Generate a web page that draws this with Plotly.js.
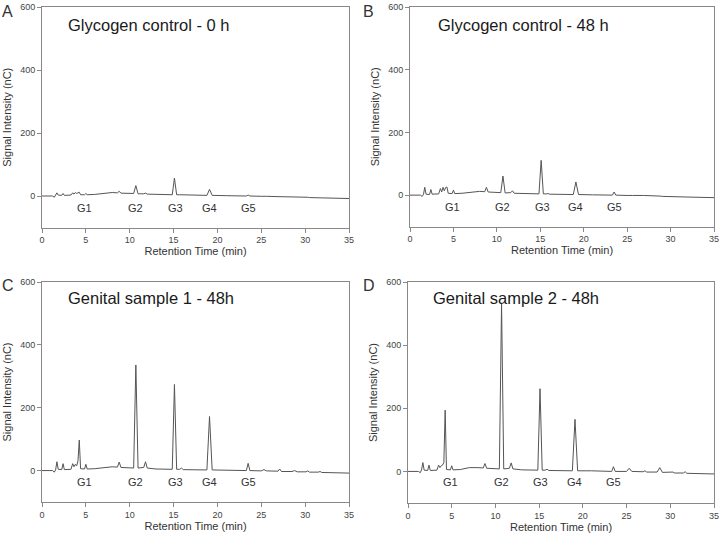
<!DOCTYPE html>
<html>
<head>
<meta charset="utf-8">
<script src="https://cdn.plot.ly/plotly-3.0.1.min.js"></script>
<style>html,body{margin:0;padding:0;background:#fff;}#chart{width:720px;height:535px;}</style>
</head>
<body>
<div id="chart"></div>
<script>
// Retention time points (min)
const time = [0, 1.2, 1.4, 1.55, 1.7, 1.85, 2.25, 2.4, 2.55, 3.3,
  3.5, 3.65, 3.8, 3.95, 4.1, 4.25, 4.4, 4.85, 5.0, 5.15,
  6, 7.0, 8, 8.6, 8.8, 9.0, 10.45, 10.7, 10.95, 11.6,
  11.8, 12.0, 13, 14.85, 15.1, 15.35, 15.7, 15.9, 16.1, 18.8,
  19.1, 19.4, 21, 23.3, 23.5, 23.7, 25.0, 25.3, 25.6, 26.9,
  27.1, 27.3, 28.5, 28.8, 29.1, 30.1, 30.3, 30.5, 31.5, 31.7,
  31.9, 35];

// Signal intensity (nC) per sample
const glycogen0h = [0, 0, -4, 2, 10, 3, 2, 8, 2, 3,
  10, 6, 11, 8, 11, 12, 4, 4, 8, 4,
  5, 8, 11, 10, 15, 9, 8, 33, 7, 7,
  9, 6, 5, 4, 57, 4, 4, 4, 3, 2,
  21, 2, 1, 0, 3, 0, -1, 0, -1, -2,
  -2, -3, -3, -3, -4, -4, -4, -5, -5, -5,
  -6, -8];
const glycogen48h = [0, 0, -4, 2, 25, 3, 2, 18, 3, 4,
  21, 10, 25, 14, 24, 26, 6, 5, 16, 5,
  6, 9, 12, 11, 25, 10, 8, 61, 7, 8,
  14, 6, 5, 4, 111, 4, 4, 5, 3, 2,
  42, 2, 1, 0, 10, 0, -1, 0, -1, -1,
  -1, -2, -3, -3, -4, -4, -4, -5, -5, -5,
  -6, -8];
const genital1 = [0, 0, -5, 2, 28, 4, 3, 22, 3, 4,
  22, 12, 20, 15, 30, 97, 6, 5, 20, 5,
  6, 10, 12, 11, 27, 10, 8, 336, 8, 10,
  28, 8, 5, 4, 274, 4, 4, 8, 3, 2,
  172, 2, 1, 0, 23, 0, -1, 3, -1, -2,
  5, -3, -3, 0, -4, -4, -1, -5, -5, -3,
  -6, -8];
const genital2 = [0, 0, -4, 5, 28, 4, 3, 20, 3, 4,
  20, 12, 18, 20, 28, 194, 6, 5, 18, 5,
  6, 12, 12, 11, 25, 10, 8, 532, 8, 10,
  27, 8, 5, 4, 262, 4, 4, 7, 3, 2,
  165, 2, 2, 0, 15, 0, 0, 10, 0, -1,
  2, -2, -2, 12, -3, -4, -2, -5, -5, -1,
  -6, -8];

const panelTitles = ['Glycogen control - 0 h', 'Glycogen control - 48 h', 'Genital sample 1 - 48h', 'Genital sample 2 - 48h'];
const panelLetters = ['A', 'B', 'C', 'D'];
const peakLabels = ['G1', 'G2', 'G3', 'G4', 'G5'];
const peakLabelX = [4.9, 10.7, 15.2, 19.1, 23.5];
const peakLabelY = [-38, -38, -36, -34];
const xTicks = [0, 5, 10, 15, 20, 25, 30, 35];
const yTicks = [0, 200, 400, 600];

const series = [glycogen0h, glycogen48h, genital1, genital2];

const W = 720, H = 535;
// pixel boxes of plot areas [left, right, top, bottom]
const boxes = [[42, 349, 7, 227.5], [410, 714, 7, 226.5], [42, 349, 282, 502], [408, 714, 282, 503]];

const traces = [];
const layout = {
  width: W, height: H,
  margin: {l: 0, r: 0, t: 0, b: 0},
  paper_bgcolor: '#fff', plot_bgcolor: '#fff',
  showlegend: false,
  font: {family: 'Liberation Sans, Arial, sans-serif', color: '#333'},
  annotations: []
};

series.forEach((ys, i) => {
  const n = i + 1;
  const xs = n === 1 ? 'x' : 'x' + n;
  const yr = n === 1 ? 'y' : 'y' + n;
  traces.push({
    x: time, y: ys, type: 'scatter', mode: 'lines',
    xaxis: xs, yaxis: yr,
    line: {color: '#555', width: 1},
    hoverinfo: 'x+y'
  });
  const b = boxes[i];
  const xd = [b[0] / W, b[1] / W];
  const yd = [(H - b[3]) / H, (H - b[2]) / H];
  layout['xaxis' + (n === 1 ? '' : n)] = {
    domain: xd, anchor: yr, range: [0, 35], tickvals: xTicks,
    ticks: 'outside', ticklen: 4, tickcolor: '#888', tickwidth: 1,
    showline: true, linecolor: '#888', linewidth: 1, mirror: true,
    showgrid: false, zeroline: false,
    tickfont: {size: 9, color: '#444'},
    title: {text: 'Retention Time (min)', font: {size: 11, color: '#333'}, standoff: 3}
  };
  layout['yaxis' + (n === 1 ? '' : n)] = {
    domain: yd, anchor: xs, range: [-100, 600], tickvals: yTicks,
    ticks: 'outside', ticklen: 4, tickcolor: '#888', tickwidth: 1,
    showline: true, linecolor: '#888', linewidth: 1, mirror: true,
    showgrid: false, zeroline: false,
    tickfont: {size: 9, color: '#444'},
    title: {text: 'Signal Intensity (nC)', font: {size: 11, color: '#333'}, standoff: 6}
  };
  // Panel title inside plot
  layout.annotations.push({
    text: panelTitles[i], xref: 'paper', yref: 'paper',
    x: (i % 2 === 0 ? 66 : (i === 1 ? 436 : 431)) / W,
    y: (H - (i < 2 ? 25 : 298)) / H,
    xanchor: 'left', yanchor: 'middle', showarrow: false,
    font: {size: 16.5, color: '#1a1a1a'}
  });
  // Panel letter
  layout.annotations.push({
    text: panelLetters[i], xref: 'paper', yref: 'paper',
    x: (i % 2 === 0 ? 0 : 361) / W,
    y: (H - (i < 2 ? 1 : 275)) / H,
    xanchor: 'left', yanchor: 'top', showarrow: false,
    font: {size: 16, color: '#333'}
  });
  // Peak labels
  peakLabels.forEach((lab, k) => {
    layout.annotations.push({
      text: lab, xref: xs, yref: yr, x: peakLabelX[k], y: peakLabelY[i],
      xanchor: 'center', yanchor: 'middle', showarrow: false,
      font: {size: 11, color: '#333'}
    });
  });
});

Plotly.newPlot('chart', traces, layout, {displayModeBar: false, staticPlot: true});
</script>
</body>
</html>
